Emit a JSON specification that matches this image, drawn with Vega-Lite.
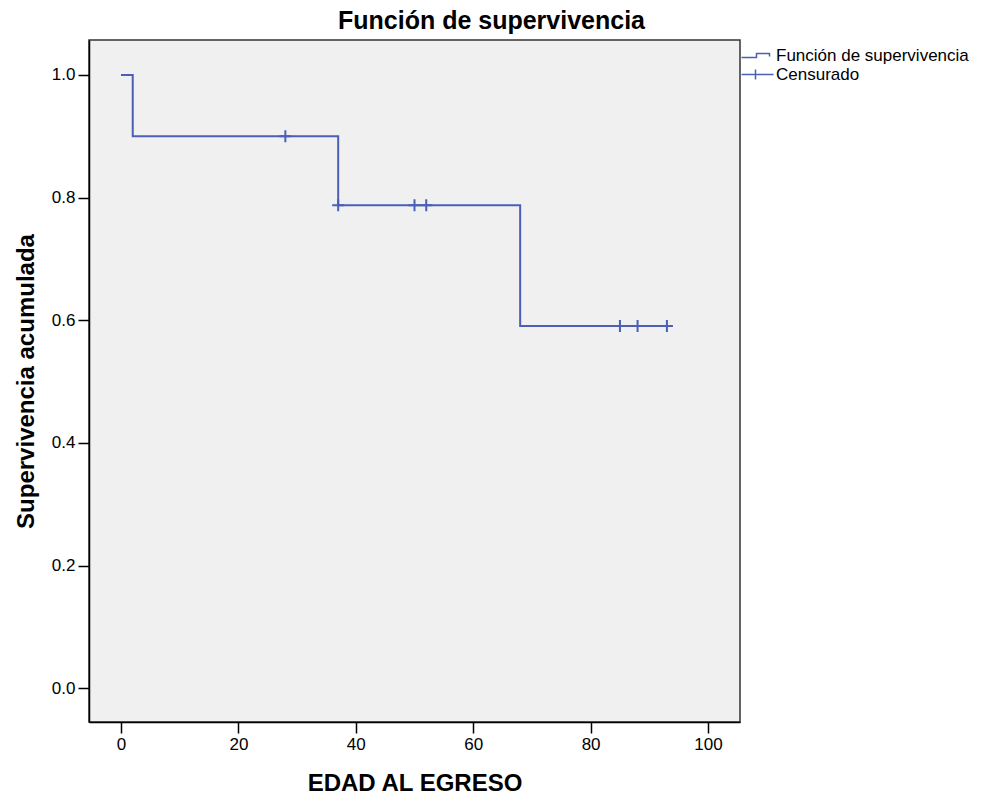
{
  "$schema": "https://vega.github.io/schema/vega-lite/v6.json",
  "width": 651,
  "height": 682,
  "autosize": {"type": "none"},
  "padding": {"left": 89, "top": 40, "right": 244, "bottom": 80},
  "background": "white",
  "title": {
    "text": "Función de supervivencia",
    "font": "Liberation Sans",
    "fontSize": 25,
    "fontWeight": "bold",
    "color": "black",
    "anchor": "middle",
    "baseline": "alphabetic",
    "offset": 12,
    "dy": 26,
    "dx": 77
  },
  "datasets": {
    "curva": [
      {"edad": 0, "supervivencia": 1.0},
      {"edad": 2, "supervivencia": 0.9},
      {"edad": 37, "supervivencia": 0.7875},
      {"edad": 68, "supervivencia": 0.5906},
      {"edad": 93, "supervivencia": 0.5906}
    ],
    "censura": [
      {"edad": 28, "supervivencia": 0.9, "serie": "Censurado"},
      {"edad": 37, "supervivencia": 0.7875, "serie": "Censurado"},
      {"edad": 50, "supervivencia": 0.7875, "serie": "Censurado"},
      {"edad": 52, "supervivencia": 0.7875, "serie": "Censurado"},
      {"edad": 85, "supervivencia": 0.5906, "serie": "Censurado"},
      {"edad": 88, "supervivencia": 0.5906, "serie": "Censurado"},
      {"edad": 93, "supervivencia": 0.5906, "serie": "Censurado"}
    ]
  },
  "encoding": {
    "x": {
      "field": "edad",
      "type": "quantitative",
      "scale": {"domain": [-5.45, 105.45], "nice": false, "zero": false},
      "axis": {
        "title": "EDAD AL EGRESO",
        "values": [0, 20, 40, 60, 80, 100],
        "grid": false,
        "domainColor": "black",
        "domainWidth": 1.5,
        "tickColor": "black",
        "tickWidth": 1.5,
        "tickSize": 11,
        "labelPadding": 3,
        "labelFont": "Liberation Sans",
        "labelFontSize": 17,
        "labelColor": "black",
        "titleFont": "Liberation Sans",
        "titleFontSize": 24,
        "titleFontWeight": "bold",
        "titleColor": "black",
        "titlePadding": 19
      }
    },
    "y": {
      "field": "supervivencia",
      "type": "quantitative",
      "scale": {"domain": [-0.055, 1.057], "nice": false, "zero": false},
      "axis": {
        "title": "Supervivencia acumulada",
        "values": [0, 0.2, 0.4, 0.6, 0.8, 1.0],
        "format": ".1f",
        "grid": false,
        "domainColor": "black",
        "domainWidth": 1.5,
        "tickColor": "black",
        "tickWidth": 1.5,
        "tickSize": 11,
        "labelPadding": 3,
        "labelFont": "Liberation Sans",
        "labelFontSize": 17,
        "labelColor": "black",
        "titleFont": "Liberation Sans",
        "titleFontSize": 24,
        "titleFontWeight": "bold",
        "titleColor": "black",
        "titlePadding": 13
      }
    }
  },
  "layer": [
    {
      "data": {"name": "curva"},
      "mark": {"type": "line", "interpolate": "step-after", "color": "#4a5fb5", "strokeWidth": 2}
    },
    {
      "data": {"name": "censura"},
      "mark": {
        "type": "point",
        "shape": "M-1,0L1,0M0,-1L0,1",
        "filled": false,
        "stroke": "#4a5fb5",
        "strokeWidth": 2,
        "size": 144,
        "opacity": 1
      }
    },
    {
      "data": {"name": "censura"},
      "mark": {"type": "point", "filled": false, "opacity": 0},
      "encoding": {
        "shape": {
          "field": "serie",
          "type": "nominal",
          "scale": {
            "domain": ["Función de supervivencia", "Censurado"],
            "range": [
              "M-3.2,0.4L-0.2,0.4L-0.2,-0.4L2.4,-0.4L2.4,0.2",
              "M-3.2,0L3.2,0M-0.4,-1L-0.4,1"
            ]
          },
          "legend": {
            "title": null,
            "orient": "none",
            "legendX": 660,
            "legendY": 7,
            "padding": 0,
            "symbolSize": 100,
            "symbolOpacity": 1,
            "symbolStrokeColor": "#4a5fb5",
            "symbolFillColor": "transparent",
            "symbolStrokeWidth": 1.5,
            "labelFont": "Liberation Sans",
            "labelFontSize": 17,
            "labelColor": "black",
            "labelOffset": 10,
            "rowPadding": 1,
            "labelLimit": 300
          }
        }
      }
    }
  ],
  "config": {
    "view": {"fill": "#f0f0f0", "stroke": "#333333", "strokeWidth": 1.5}
  }
}
